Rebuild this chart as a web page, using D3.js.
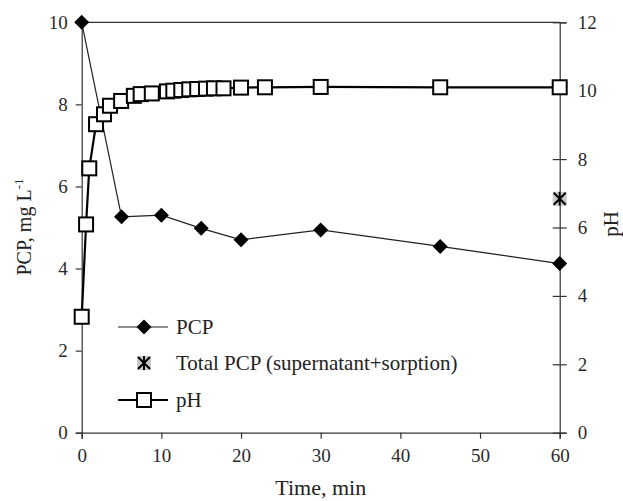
<!DOCTYPE html>
<html>
<head>
<meta charset="utf-8">
<script src="https://cdn.jsdelivr.net/npm/d3@7"></script>
<style>
  body { margin: 0; background: #fff; }
  svg { display: block; font-family: "Liberation Serif", "Times New Roman", serif; }
</style>
</head>
<body>
<div id="chart"></div>
<script>
// PCP in supernatant (mg/L) vs time
const pcpTime = [0, 5, 10, 15, 20, 30, 45, 60];
const pcpValue = [10, 5.26, 5.30, 4.98, 4.70, 4.94, 4.54, 4.12];

// total PCP (supernatant + sorption), single point
const totalTime = [60];
const totalValue = [5.7];

// pH vs time
const phTime = [0, 0.55, 0.95, 1.8, 2.8, 3.55, 4.95, 6.55, 7.4, 8.8, 10.7, 11.5, 12.5, 13.5, 14.5, 15.6, 16.6, 17.8, 20, 23, 30, 45, 60];
const phValue = [3.39, 6.09, 7.73, 9.02, 9.31, 9.56, 9.70, 9.85, 9.90, 9.92, 9.98, 10.0, 10.02, 10.04, 10.05, 10.06, 10.07, 10.07, 10.09, 10.1, 10.11, 10.1, 10.1];

const xTicks = [0, 10, 20, 30, 40, 50, 60];
const yLeftTicks = [0, 2, 4, 6, 8, 10];
const yRightTicks = [0, 2, 4, 6, 8, 10, 12];

const legendItems = ["PCP", "Total PCP (supernatant+sorption)", "pH"];

const width = 623, height = 501;
const margin = { top: 22.3, right: 63.3, bottom: 68.3, left: 81.7 };
const fontSize = 19;

const svg = d3.select("#chart")
  .append("svg")
  .attr("width", width)
  .attr("height", height);

const x = d3.scaleLinear().domain([0, 60]).range([margin.left, width - margin.right]);
const yL = d3.scaleLinear().domain([0, 10]).range([height - margin.bottom, margin.top]);
const yR = d3.scaleLinear().domain([0, 12]).range([height - margin.bottom, margin.top]);

const axisColor = "#333";

// top frame line
svg.append("line")
  .attr("x1", x(0)).attr("x2", x(60))
  .attr("y1", yL(10)).attr("y2", yL(10))
  .attr("stroke", axisColor).attr("stroke-width", 1.2);

// bottom axis
const gx = svg.append("g")
  .attr("transform", `translate(0,${yL(0)})`)
  .call(d3.axisBottom(x).tickValues(xTicks).tickSize(6).tickPadding(10).tickFormat(d3.format("d")));

// left axis
const gyl = svg.append("g")
  .attr("transform", `translate(${x(0)},0)`)
  .call(d3.axisLeft(yL).tickValues(yLeftTicks).tickSize(6).tickPadding(8).tickFormat(d3.format("d")));

// right axis, ticks crossing the line
const gyr = svg.append("g")
  .attr("transform", `translate(${x(60)},0)`)
  .call(d3.axisRight(yR).tickValues(yRightTicks).tickSize(7).tickPadding(11).tickFormat(d3.format("d")));
gyr.selectAll(".tick line").attr("x1", -7);

[gx, gyl, gyr].forEach(g => {
  g.attr("font-family", "Liberation Serif, serif");
  g.select(".domain").attr("stroke", axisColor).attr("stroke-width", 1.2);
  g.selectAll(".tick line").attr("stroke", axisColor).attr("stroke-width", 1.2);
  g.selectAll(".tick text")
    .attr("fill", "#2a2a2a")
    .style("font-size", fontSize + "px");
});

// axis titles
svg.append("text")
  .attr("x", (x(0) + x(60)) / 2)
  .attr("y", 495)
  .attr("text-anchor", "middle")
  .style("font-size", "22px")
  .attr("fill", "#222")
  .text("Time, min");

const ylTitle = svg.append("text")
  .attr("transform", `translate(31,227) rotate(-90)`)
  .attr("text-anchor", "middle")
  .style("font-size", "20px")
  .attr("fill", "#222");
ylTitle.append("tspan").text("PCP, mg L");
ylTitle.append("tspan").attr("dy", -8).style("font-size", "13px").text("-1");

svg.append("text")
  .attr("transform", `translate(618,224) rotate(-90)`)
  .attr("text-anchor", "middle")
  .style("font-size", "21px")
  .attr("fill", "#222")
  .text("pH");

// markers
function drawDiamond(g, cx, cy) {
  const s = 7.5;
  g.append("path")
    .attr("d", `M${cx},${cy - s}L${cx + s},${cy}L${cx},${cy + s}L${cx - s},${cy}Z`)
    .attr("fill", "#000");
}
function drawSquare(g, cx, cy) {
  g.append("rect")
    .attr("x", cx - 7).attr("y", cy - 7)
    .attr("width", 14).attr("height", 14)
    .attr("fill", "#fff").attr("stroke", "#000").attr("stroke-width", 2);
}
function drawStar(g, cx, cy) {
  g.append("rect")
    .attr("x", cx - 7).attr("y", cy - 7)
    .attr("width", 14).attr("height", 14)
    .attr("fill", "#c8c8c8");
  g.append("path")
    .attr("d", `M${cx - 6},${cy - 6}L${cx + 6},${cy + 6}M${cx + 6},${cy - 6}L${cx - 6},${cy + 6}M${cx},${cy - 7}L${cx},${cy + 7}`)
    .attr("stroke", "#000").attr("stroke-width", 2);
}

// PCP line
const pcpData = pcpTime.map((t, i) => [t, pcpValue[i]]);
svg.append("path")
  .datum(pcpData)
  .attr("fill", "none")
  .attr("stroke", "#222")
  .attr("stroke-width", 1.2)
  .attr("d", d3.line().x(d => x(d[0])).y(d => yL(d[1])));

// pH line
const phData = phTime.map((t, i) => [t, phValue[i]]);
svg.append("path")
  .datum(phData)
  .attr("fill", "none")
  .attr("stroke", "#000")
  .attr("stroke-width", 2.2)
  .attr("d", d3.line().x(d => x(d[0])).y(d => yR(d[1])));

const gPcp = svg.append("g");
pcpData.forEach(d => drawDiamond(gPcp, x(d[0]), yL(d[1])));

const gPh = svg.append("g");
phData.forEach(d => drawSquare(gPh, x(d[0]), yR(d[1])));

const gTot = svg.append("g");
totalTime.forEach((t, i) => drawStar(gTot, x(t), yL(totalValue[i])));

// legend
const legend = svg.append("g");
const legY = [327, 363, 400];
legendItems.forEach((name, i) => {
  const cy = legY[i];
  if (i === 0) {
    legend.append("line").attr("x1", 118).attr("x2", 168).attr("y1", cy).attr("y2", cy)
      .attr("stroke", "#222").attr("stroke-width", 1.2);
    drawDiamond(legend, 144, cy);
  } else if (i === 1) {
    drawStar(legend, 144, cy);
  } else {
    legend.append("line").attr("x1", 118).attr("x2", 168).attr("y1", cy).attr("y2", cy)
      .attr("stroke", "#000").attr("stroke-width", 2.2);
    drawSquare(legend, 144, cy);
  }
  legend.append("text")
    .attr("x", 176).attr("y", cy + 7)
    .style("font-size", "21px")
    .attr("fill", "#222")
    .text(name);
});
</script>
</body>
</html>
